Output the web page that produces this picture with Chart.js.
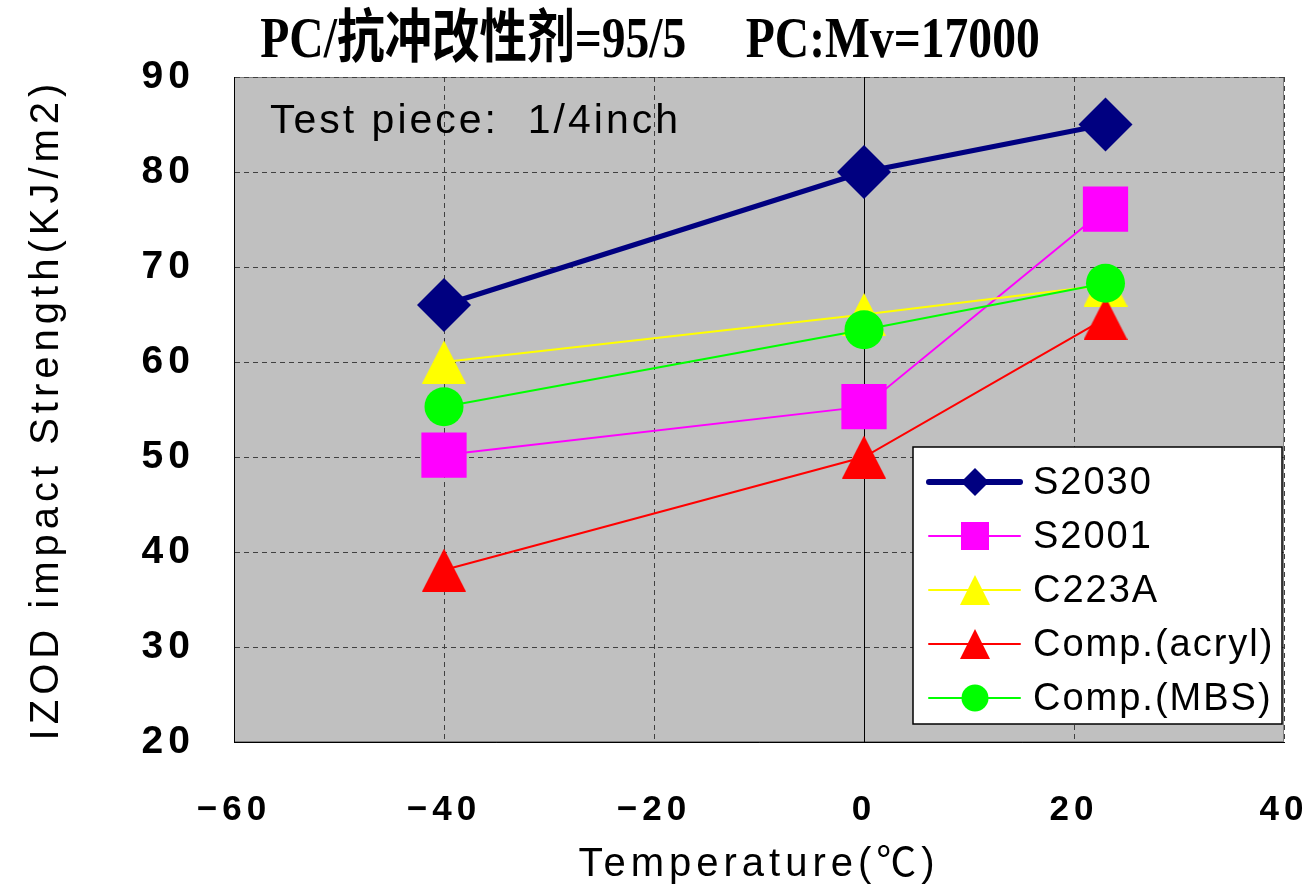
<!DOCTYPE html>
<html>
<head>
<meta charset="utf-8">
<script src="https://cdn.jsdelivr.net/npm/chart.js@4.4.1/dist/chart.umd.min.js"></script>
<style>
html, body { margin: 0; padding: 0; background: #fff; }
#wrap { width: 1312px; height: 892px; }
</style>
</head>
<body>
<div id="wrap"><canvas id="chart"></canvas></div>
<script>
const temps = [-40, 0, 23];
const seriesNames = ['S2030', 'S2001', 'C223A', 'Comp.(acryl)', 'Comp.(MBS)'];
const s2030 = [66, 80, 85];
const s2001 = [50.2, 55.3, 76.1];
const c223a = [60, 65, 68.1];
const compAcryl = [38.1, 50, 64.6];
const compMbs = [55.3, 63.4, 68.3];
const xTicks = [-60, -40, -20, 0, 20, 40];
const yTicks = [20, 30, 40, 50, 60, 70, 80, 90];

const chartTitle = 'PC/抗冲改性剂=95/5     PC:Mv=17000';
const noteText = 'Test piece:  1/4inch';

function pts(vals) {
    return temps.map((t, i) => ({ x: t, y: vals[i] }));
}

// excel style triangle: centred on its bounding box
function makeTri(color, w, h) {
    const c = document.createElement('canvas');
    c.width = w;
    c.height = h;
    const g = c.getContext('2d');
    g.fillStyle = color;
    g.beginPath();
    g.moveTo(w / 2, 0);
    g.lineTo(w, h);
    g.lineTo(0, h);
    g.closePath();
    g.fill();
    return c;
}

const colors = ['#000080', '#FF00FF', '#FFFF00', '#FF0000', '#00FF00'];
const triYellow = makeTri(colors[2], 44, 43);
const triRed = makeTri(colors[3], 44, 43);
const legendTri = [null, null, makeTri(colors[2], 30, 30), makeTri(colors[3], 30, 30), null];

function line(i, vals, width, style, radius, order) {
    return {
        label: seriesNames[i],
        data: pts(vals),
        showLine: true,
        borderColor: colors[i],
        backgroundColor: colors[i],
        borderWidth: width,
        pointStyle: style,
        pointRadius: radius,
        pointBackgroundColor: colors[i],
        pointBorderWidth: 0,
        tension: 0,
        order: order
    };
}

const plotBg = {
    id: 'plotBg',
    beforeDraw(chart) {
        const { ctx, chartArea: a } = chart;
        ctx.save();
        ctx.fillStyle = '#C0C0C0';
        ctx.fillRect(a.left, a.top, a.right - a.left, a.bottom - a.top);
        ctx.strokeStyle = '#808080';
        ctx.lineWidth = 1;
        ctx.strokeRect(a.left + 0.5, a.top + 0.5, a.right - a.left - 1, a.bottom - a.top - 1);
        ctx.restore();
        ctx.letterSpacing = '5px';
    }
};

function drawMark(ctx, i, x, y) {
    ctx.fillStyle = colors[i];
    ctx.beginPath();
    if (i === 0) {
        ctx.moveTo(x, y - 14); ctx.lineTo(x + 14, y); ctx.lineTo(x, y + 14); ctx.lineTo(x - 14, y);
        ctx.closePath();
        ctx.fill();
    } else if (i === 1) {
        ctx.fillRect(x - 14, y - 14, 28, 28);
    } else if (i === 4) {
        ctx.arc(x, y, 13.5, 0, Math.PI * 2);
        ctx.fill();
    } else {
        const im = legendTri[i];
        ctx.drawImage(im, x - im.width / 2, y - im.height / 2);
    }
}

const boxLegend = {
    id: 'boxLegend',
    afterDraw(chart) {
        const ctx = chart.ctx;
        ctx.save();
        ctx.letterSpacing = '0px';

        // title
        ctx.save();
        ctx.fillStyle = '#000';
        ctx.font = "bold 58px 'Liberation Serif', 'Noto Sans CJK SC'";
        ctx.textAlign = 'center';
        ctx.textBaseline = 'alphabetic';
        ctx.translate(650, 57);
        ctx.scale(0.82, 1);
        ctx.fillText(chartTitle, 0, 0);
        ctx.restore();

        // note inside plot
        ctx.fillStyle = '#000';
        ctx.letterSpacing = '3px';
        ctx.font = "41px 'Liberation Sans'";
        ctx.textAlign = 'left';
        ctx.textBaseline = 'alphabetic';
        ctx.fillText(noteText, 270, 133);

        // legend box
        ctx.letterSpacing = '2px';
        ctx.fillStyle = '#fff';
        ctx.fillRect(913, 447, 369, 277);
        ctx.strokeStyle = '#000';
        ctx.lineWidth = 1.5;
        ctx.strokeRect(913, 447, 369, 277);
        ctx.font = "38px 'Liberation Sans'";
        ctx.textBaseline = 'middle';
        chart.data.datasets.forEach((ds, i) => {
            const y = 482 + i * 54;
            ctx.strokeStyle = ds.borderColor;
            ctx.lineWidth = i === 0 ? 6 : 2;
            ctx.lineCap = 'round';
            ctx.beginPath();
            ctx.moveTo(929, y);
            ctx.lineTo(1020, y);
            ctx.stroke();
            drawMark(ctx, i, 975, y);
            ctx.fillStyle = '#000';
            ctx.fillText(ds.label, 1033, y + 2);
        });
        ctx.restore();
    }
};

new Chart(document.getElementById('chart'), {
    type: 'scatter',
    data: {
        datasets: [
            line(0, s2030, 5, 'rectRot', 27, 5),
            line(1, s2001, 2, 'rect', 32, 4),
            line(2, c223a, 2, triYellow, 22, 3),
            line(3, compAcryl, 2, triRed, 22, 2),
            line(4, compMbs, 2, 'circle', 19.5, 1)
        ]
    },
    options: {
        responsive: true,
        maintainAspectRatio: false,
        animation: false,
        events: [],
        layout: { autoPadding: false, padding: { left: 0, right: 28, top: 77, bottom: 0 } },
        plugins: {
            legend: { display: false },
            tooltip: { enabled: false },
            title: { display: false }
        },
        scales: {
            x: {
                type: 'linear',
                min: -60,
                max: 40,
                afterBuildTicks: s => { s.ticks = xTicks.map(v => ({ value: v })); },
                ticks: {
                    callback: v => v < 0 ? '\u2212' + (-v) : String(v),
                    font: { family: 'Liberation Sans', size: 35, weight: 'bold' },
                    color: '#000',
                    padding: 47,
                    maxRotation: 0,
                    autoSkip: false
                },
                grid: {
                    color: c => (c.tick && c.tick.value === 0) ? '#000' : '#404040',
                    lineWidth: 1,
                    drawTicks: false
                },
                border: {
                    color: '#000',
                    width: 1,
                    dash: c => (c.tick && c.tick.value === 0) ? [] : [5, 4]
                },
                title: {
                    display: true,
                    text: 'Temperature(℃)',
                    font: { family: "'Liberation Sans', 'Noto Sans CJK SC'", size: 40 },
                    color: '#000',
                    padding: { top: 0, bottom: 3 }
                },
                afterFit: s => { s.height = 150; s.paddingLeft = 0; s.paddingRight = 0; }
            },
            y: {
                min: 20,
                max: 90,
                afterBuildTicks: s => { s.ticks = yTicks.map(v => ({ value: v })); },
                ticks: {
                    font: { family: 'Liberation Sans', size: 39, weight: 'bold' },
                    color: '#000',
                    padding: 39
                },
                grid: { color: '#404040', lineWidth: 1, drawTicks: false },
                border: { color: '#000', width: 1, dash: [5, 4] },
                title: {
                    display: true,
                    text: 'IZOD impact Strength(KJ/m2)',
                    font: { family: 'Liberation Sans', size: 40 },
                    color: '#000',
                    padding: { top: 23, bottom: 0 }
                },
                afterFit: s => { s.width = 234; s.paddingTop = 0; s.paddingBottom = 0; }
            }
        }
    },
    plugins: [plotBg, boxLegend]
});
</script>
</body>
</html>
